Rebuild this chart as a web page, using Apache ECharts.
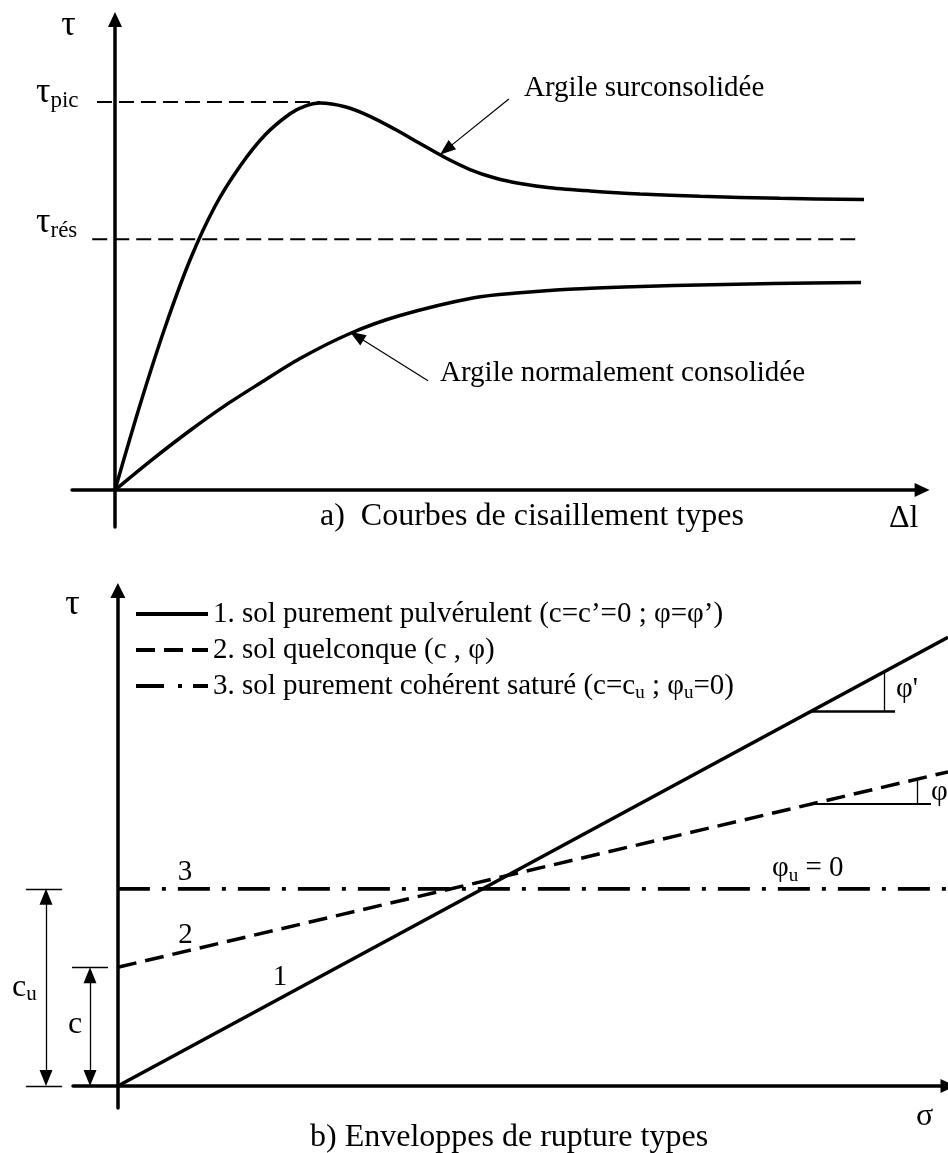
<!DOCTYPE html>
<html><head><meta charset="utf-8">
<script src="https://cdn.jsdelivr.net/npm/echarts@6/dist/echarts.min.js"></script>
<style>html,body{margin:0;padding:0;background:#fff}#c{width:948px;height:1153px}</style>
</head><body><div id="c"></div>
<script>
// ---------- (a) Courbes de cisaillement types ----------
const ocDl  = [0, 5.81, 11.63, 17.44, 23.26, 29.07, 34.88, 40.70, 44.19, 47.67, 53.49, 59.30, 65.12, 70.93, 76.74, 82.56, 88.37, 94.19, 101.16, 110.47, 122.09, 136.05, 154.65, 174.19];
const ocTau = [0, 22.97, 43.92, 62.16, 76.70, 87.51, 95.95, 101.70, 103.78, 104.59, 103.58, 101.01, 97.50, 93.65, 89.86, 86.62, 84.32, 82.84, 81.70, 80.84, 80.03, 79.38, 78.84, 78.49];
const ncDl  = [0, 8.14, 17.44, 25.58, 33.72, 43.02, 54.65, 66.28, 83.49, 94.19, 106.74, 118.37, 130.0, 153.26, 173.49];
const ncTau = [0, 7.76, 16.08, 22.81, 28.86, 35.54, 42.30, 47.16, 51.97, 53.30, 54.32, 54.86, 55.27, 55.81, 56.08];
const tauPic = 104.9;
const tauRes = 67.8;
const picSpan = [-4.2, 47.7];
const resSpan = [-5.3, 172.3];
const ocArrow = [[91.6, 105.7], [77.0, 92.0]];
const ncArrow = [[72.8, 29.5], [56.2, 41.6]];

// ---------- (b) Enveloppes de rupture types ----------
const legendNames = [
  '1. sol purement pulvérulent (c=c’=0 ; φ=φ’)',
  '2. sol quelconque (c , φ)',
  '3. sol purement cohérent saturé (c=cu ; φu=0)'
];
const sigma = [0, 185];
const cVal = 27.0;
const cuVal = 44.8;
const env1 = [0, 102];
const env2 = [cVal, 71.4];
const env3 = [cuVal, cuVal];
const phi1Mark = [154.4, 173.2, 170.7]; // start, end, vertical
const phi2Mark = [154.4, 181.2, 178.1];

const FONT = "'Liberation Serif','Times New Roman',serif";
const f = s => s + 'px ' + FONT;
const BLK = '#000';
const pairs = (xs, ys) => xs.map((x, i) => [x, ys[i]]);
const onEnv = (env, x) => env[0] + (env[1] - env[0]) * (x - sigma[0]) / (sigma[1] - sigma[0]);

function txt(x, y, text, size, align) {
  return {type: 'text', x, y, silent: true, z: 100,
    style: {text, font: f(size), fill: BLK, textAlign: align || 'left', textVerticalAlign: 'middle'}};
}
function rtxt(x, y, text, rich) {
  return {type: 'text', x, y, silent: true, z: 100,
    style: {text, font: f(29), fill: BLK, textAlign: 'left', textVerticalAlign: 'middle', rich}};
}
const tauRich = {t: {font: f(36), lineHeight: 40, fill: BLK}, p: {font: f(23), lineHeight: 31, verticalAlign: 'bottom', fill: BLK}};

function axis(extra) {
  return Object.assign({type: 'value', splitLine: {show: false}, axisTick: {show: false}, axisLabel: {show: false}}, extra);
}
const axLine = (size) => ({onZero: true, symbol: ['none', 'triangle'], symbolSize: size, lineStyle: {color: BLK, width: 3.5}});

const chart = echarts.init(document.getElementById('c'), null, {renderer: 'canvas'});
const option = {
  animation: false,
  backgroundColor: '#fff',
  grid: [
    {left: 72, top: 19.4, width: 850.1, height: 507.6, outerBoundsMode: 'none', containLabel: false},
    {left: 73, top: 590.6, width: 875, height: 517.4, outerBoundsMode: 'none', containLabel: false},
    {left: 0, top: 590.6, width: 118, height: 517.4, outerBoundsMode: 'none', containLabel: false}
  ],
  xAxis: [
    axis({gridIndex: 0, min: -10, max: 187.7, axisLine: axLine([14, 15])}),
    axis({gridIndex: 1, min: -10, max: 185, axisLine: axLine([14, 15])}),
    axis({gridIndex: 2, min: 0, max: 118, show: false})
  ],
  yAxis: [
    axis({gridIndex: 0, min: -10, max: 127.2, axisLine: axLine([14, 15])}),
    axis({gridIndex: 1, min: -5, max: 112.6, axisLine: axLine([15, 15])}),
    axis({gridIndex: 2, min: -5, max: 112.6, show: false})
  ],
  legend: {
    orient: 'vertical', left: 134, top: 597, padding: 0, itemWidth: 72, itemHeight: 14, itemGap: 2,
    selectedMode: false,
    itemStyle: {opacity: 0},
    data: [
      {name: legendNames[0], lineStyle: {type: 'solid', width: 4, color: BLK}},
      {name: legendNames[1], lineStyle: {type: [19, 9], width: 4, color: BLK}},
      {name: legendNames[2], lineStyle: {type: [28, 14, 4, 11], width: 4, color: BLK}}
    ],
    formatter: n => n === legendNames[2] ? '3. sol purement cohérent saturé (c=c{s|u} ; φ{s|u}=0)' : n,
    textStyle: {fontFamily: FONT, fontSize: 29, color: BLK, lineHeight: 34,
      rich: {s: {fontFamily: FONT, fontSize: 19, lineHeight: 22, verticalAlign: 'bottom', color: BLK}}}
  },
  series: [
    {type: 'line', name: 'Argile surconsolidée', xAxisIndex: 0, yAxisIndex: 0, data: pairs(ocDl, ocTau),
      smooth: 0.3, symbol: 'none', silent: true, lineStyle: {color: BLK, width: 3.5},
      markLine: {silent: true, symbol: ['none', 'triangle'], symbolSize: [12, 16], label: {show: false},
        lineStyle: {color: BLK, width: 1.2, type: 'solid'},
        data: [[{coord: ocArrow[0]}, {coord: ocArrow[1]}], [{coord: ncArrow[0]}, {coord: ncArrow[1]}]]}},
    {type: 'line', name: 'Argile normalement consolidée', xAxisIndex: 0, yAxisIndex: 0, data: pairs(ncDl, ncTau),
      smooth: 0.3, symbol: 'none', silent: true, lineStyle: {color: BLK, width: 3.5}},
    {type: 'line', name: 'tau_pic', xAxisIndex: 0, yAxisIndex: 0, data: picSpan.map(x => [x, tauPic]),
      symbol: 'none', silent: true, lineStyle: {color: BLK, width: 2, type: [15, 7]}},
    {type: 'line', name: 'tau_res', xAxisIndex: 0, yAxisIndex: 0, data: resSpan.map(x => [x, tauRes]),
      symbol: 'none', silent: true, lineStyle: {color: BLK, width: 2, type: [15, 7]}},

    {type: 'line', name: legendNames[0], xAxisIndex: 1, yAxisIndex: 1, data: pairs(sigma, env1),
      symbol: 'none', silent: true, lineStyle: {color: BLK, width: 3.5, type: 'solid'},
      markLine: {silent: true, symbol: ['none', 'none'], label: {show: false},
        lineStyle: {color: BLK, width: 1.3, type: 'solid'},
        data: [
          [{coord: [phi1Mark[0], onEnv(env1, phi1Mark[0])], lineStyle: {width: 2.6}}, {coord: [phi1Mark[1], onEnv(env1, phi1Mark[0])]}],
          [{coord: [phi1Mark[2], onEnv(env1, phi1Mark[0])]}, {coord: [phi1Mark[2], onEnv(env1, phi1Mark[2])]}],
          [{coord: [phi2Mark[0], onEnv(env2, phi2Mark[0])], lineStyle: {width: 2.2}}, {coord: [phi2Mark[1], onEnv(env2, phi2Mark[0])]}],
          [{coord: [phi2Mark[2], onEnv(env2, phi2Mark[0])]}, {coord: [phi2Mark[2], onEnv(env2, phi2Mark[2])]}]
        ]}},
    {type: 'line', name: legendNames[1], xAxisIndex: 1, yAxisIndex: 1, data: pairs(sigma, env2),
      symbol: 'none', silent: true, lineStyle: {color: BLK, width: 3.5, type: [19, 9]}},
    {type: 'line', name: legendNames[2], xAxisIndex: 1, yAxisIndex: 1, data: pairs(sigma, env3),
      symbol: 'none', silent: true, lineStyle: {color: BLK, width: 3.8, type: [32, 12, 4, 12]}},

    {type: 'line', name: 'cotes', xAxisIndex: 2, yAxisIndex: 2, data: [], symbol: 'none', silent: true,
      markLine: {silent: true, symbol: ['none', 'none'], label: {show: false},
        lineStyle: {color: BLK, width: 1.3, type: 'solid'},
        data: [
          [{coord: [26, cuVal]}, {coord: [62, cuVal]}],
          [{coord: [26, 0]}, {coord: [62, 0]}],
          [{coord: [72, cVal]}, {coord: [108, cVal]}],
          [{coord: [46, 1.8], symbol: 'triangle', symbolSize: [13, 16]}, {coord: [46, cuVal - 1.8], symbol: 'triangle', symbolSize: [13, 16]}],
          [{coord: [90, 1.8], symbol: 'triangle', symbolSize: [13, 16]}, {coord: [90, cVal - 1.8], symbol: 'triangle', symbolSize: [13, 16]}]
        ]}}
  ],
  graphic: {elements: [
    txt(68.5, 25.9, 'τ', 36, 'center'),
    rtxt(36, 92.9, '{t|τ}{p|pic}', tauRich),
    rtxt(36, 222.9, '{t|τ}{p|rés}', tauRich),
    txt(524, 88.2, 'Argile surconsolidée', 29),
    txt(440, 373, 'Argile normalement consolidée', 29),
    txt(320, 517, 'a)  Courbes de cisaillement types', 32),
    txt(889, 519, 'Δl', 32),
    txt(72.5, 604.8, 'τ', 36, 'center'),
    txt(916, 1117, 'σ', 32),
    txt(310, 1138, 'b) Enveloppes de rupture types', 32),
    txt(185, 872, '3', 29, 'center'),
    txt(185.5, 935, '2', 29, 'center'),
    txt(280, 977, '1', 29, 'center'),
    rtxt(772, 868.2, '{a|φ}{s|u}{a| = 0}', {a: {font: f(29), lineHeight: 34, fill: BLK}, s: {font: f(19), lineHeight: 22, verticalAlign: 'bottom', fill: BLK}}),
    txt(896, 689, 'φ\'', 29),
    txt(931, 792, 'φ', 29),
    rtxt(12, 987.2, '{a|c}{s|u}', {a: {font: f(32), lineHeight: 36, fill: BLK}, s: {font: f(21), lineHeight: 21, verticalAlign: 'bottom', fill: BLK}}),
    txt(68, 1024.2, 'c', 32)
  ]}
};
chart.setOption(option);
</script>
</body></html>
